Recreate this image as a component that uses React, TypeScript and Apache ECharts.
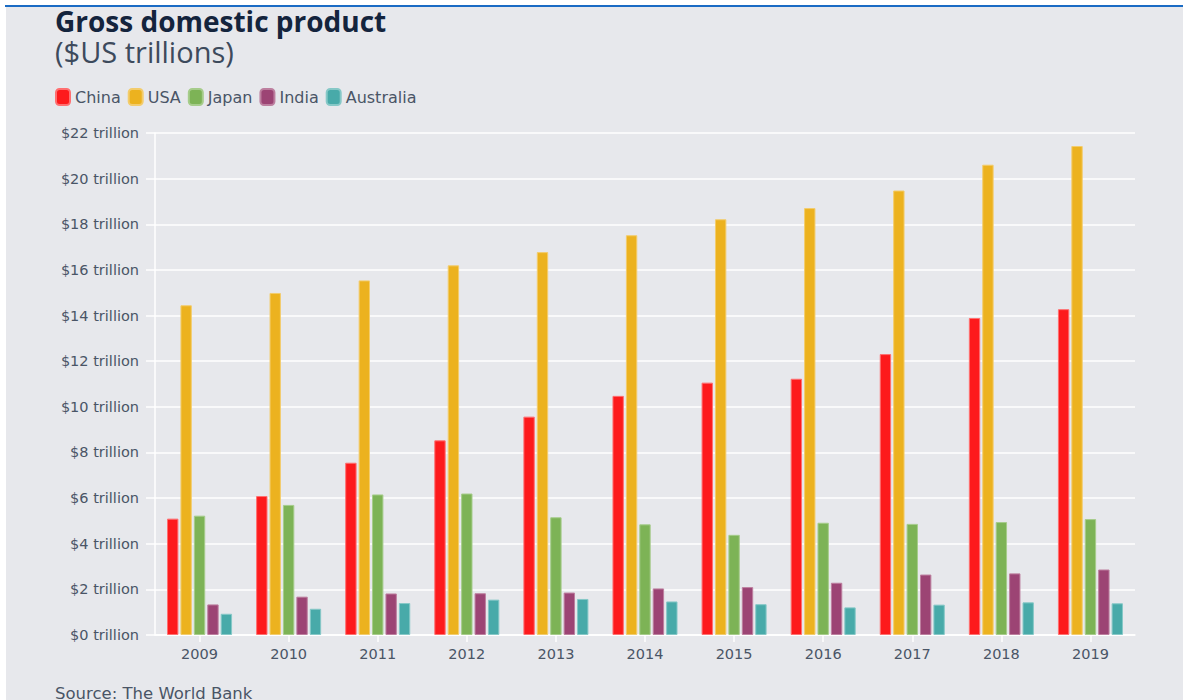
import React, { useEffect, useRef } from "react";
import * as echarts from "echarts";

const years = ["2009", "2010", "2011", "2012", "2013", "2014", "2015", "2016", "2017", "2018", "2019"];
const china = [5.1, 6.09, 7.55, 8.53, 9.57, 10.48, 11.06, 11.23, 12.31, 13.89, 14.28];
const usa = [14.45, 14.99, 15.54, 16.2, 16.78, 17.52, 18.22, 18.71, 19.48, 20.61, 21.43];
const japan = [5.23, 5.7, 6.16, 6.2, 5.16, 4.85, 4.39, 4.92, 4.87, 4.95, 5.08];
const india = [1.34, 1.68, 1.82, 1.83, 1.86, 2.04, 2.1, 2.29, 2.65, 2.7, 2.87];
const australia = [0.93, 1.15, 1.4, 1.55, 1.58, 1.47, 1.35, 1.21, 1.33, 1.43, 1.39];

const seriesDefs = [
  { name: "China", data: china, color: "#fd1a1c", border: "#ff6f70" },
  { name: "USA", data: usa, color: "#ecb21f", border: "#f3cc6c" },
  { name: "Japan", data: japan, color: "#7db356", border: "#a6cc8b" },
  { name: "India", data: india, color: "#9c4474", border: "#bd7f9f" },
  { name: "Australia", data: australia, color: "#48aaa9", border: "#86c8c7" },
];

const TITLE_FONT = "'Open Sans', 'Noto Sans', sans-serif";
const FONT = "'DejaVu Sans', 'Noto Sans', sans-serif";

export default function App() {
  const ref = useRef<HTMLDivElement>(null);
  useEffect(() => {
    if (!ref.current) return;
    const chart = echarts.init(ref.current, null, { renderer: "svg" });
    chart.setOption({
      animation: false,
      backgroundColor: "#ffffff",
      textStyle: { fontFamily: FONT },
      graphic: [
        { type: "rect", silent: true, z: -10, shape: { x: 6, y: 7, width: 1183, height: 700 }, style: { fill: "#e7e8ec" } },
        { type: "line", silent: true, shape: { x1: 5, y1: 6, x2: 1183, y2: 6 }, style: { stroke: "#1a6bc4", lineWidth: 2 } },
        {
          type: "text", left: 55, top: 7,
          style: { text: "Gross domestic product", font: `bold 28px ${TITLE_FONT}`, lineHeight: 28, fill: "#14243d" },
        },
        {
          type: "text", left: 55, top: 37,
          style: { text: "($US trillions)", font: `29px ${TITLE_FONT}`, lineHeight: 29, fill: "#3d4a5c" },
        },
        {
          type: "text", left: 55, top: 685,
          style: { text: "Source: The World Bank", font: `16.5px ${FONT}`, fill: "#4a5566" },
        },
      ],
      legend: {
        left: 50, top: 83,
        icon: "roundRect",
        itemWidth: 14, itemHeight: 16, itemGap: 7,
        textStyle: { fontSize: 16, color: "#4a5566", fontFamily: FONT },
        data: seriesDefs.map((s) => s.name),
      },
      grid: { left: 155, right: 48, top: 133, bottom: 65, containLabel: false },
      xAxis: {
        type: "category",
        data: years,
        axisLine: { show: true, lineStyle: { color: "#ffffff", width: 1.5 } },
        axisTick: { show: true, alignWithLabel: true, length: 7, lineStyle: { color: "#ffffff", width: 1.5 } },
        axisLabel: { color: "#4a5566", fontSize: 14.5, margin: 11, fontFamily: FONT },
      },
      yAxis: {
        type: "value",
        min: 0, max: 22, interval: 2,
        axisLine: { show: true, lineStyle: { color: "#ffffff", width: 1.5 } },
        axisTick: { show: true, length: 9, lineStyle: { color: "#ffffff", width: 1.5 } },
        axisLabel: { color: "#4a5566", fontSize: 14.5, margin: 16, fontFamily: FONT, formatter: (v: number) => `$${v} trillion` },
        splitLine: { lineStyle: { color: "#ffffff", width: 1.5 } },
      },
      series: seriesDefs.map((s) => ({
        name: s.name,
        type: "bar",
        data: s.data,
        barGap: "18%",
        barCategoryGap: "27%",
        itemStyle: { color: s.color, borderColor: s.border, borderWidth: 1 },
      })),
    });
    return () => chart.dispose();
  }, []);
  return (
    <div style={{ position: "fixed", left: 0, top: 0, width: 1183, height: 700 }}>
      <div ref={ref} style={{ width: 1183, height: 700 }} />
    </div>
  );
}
